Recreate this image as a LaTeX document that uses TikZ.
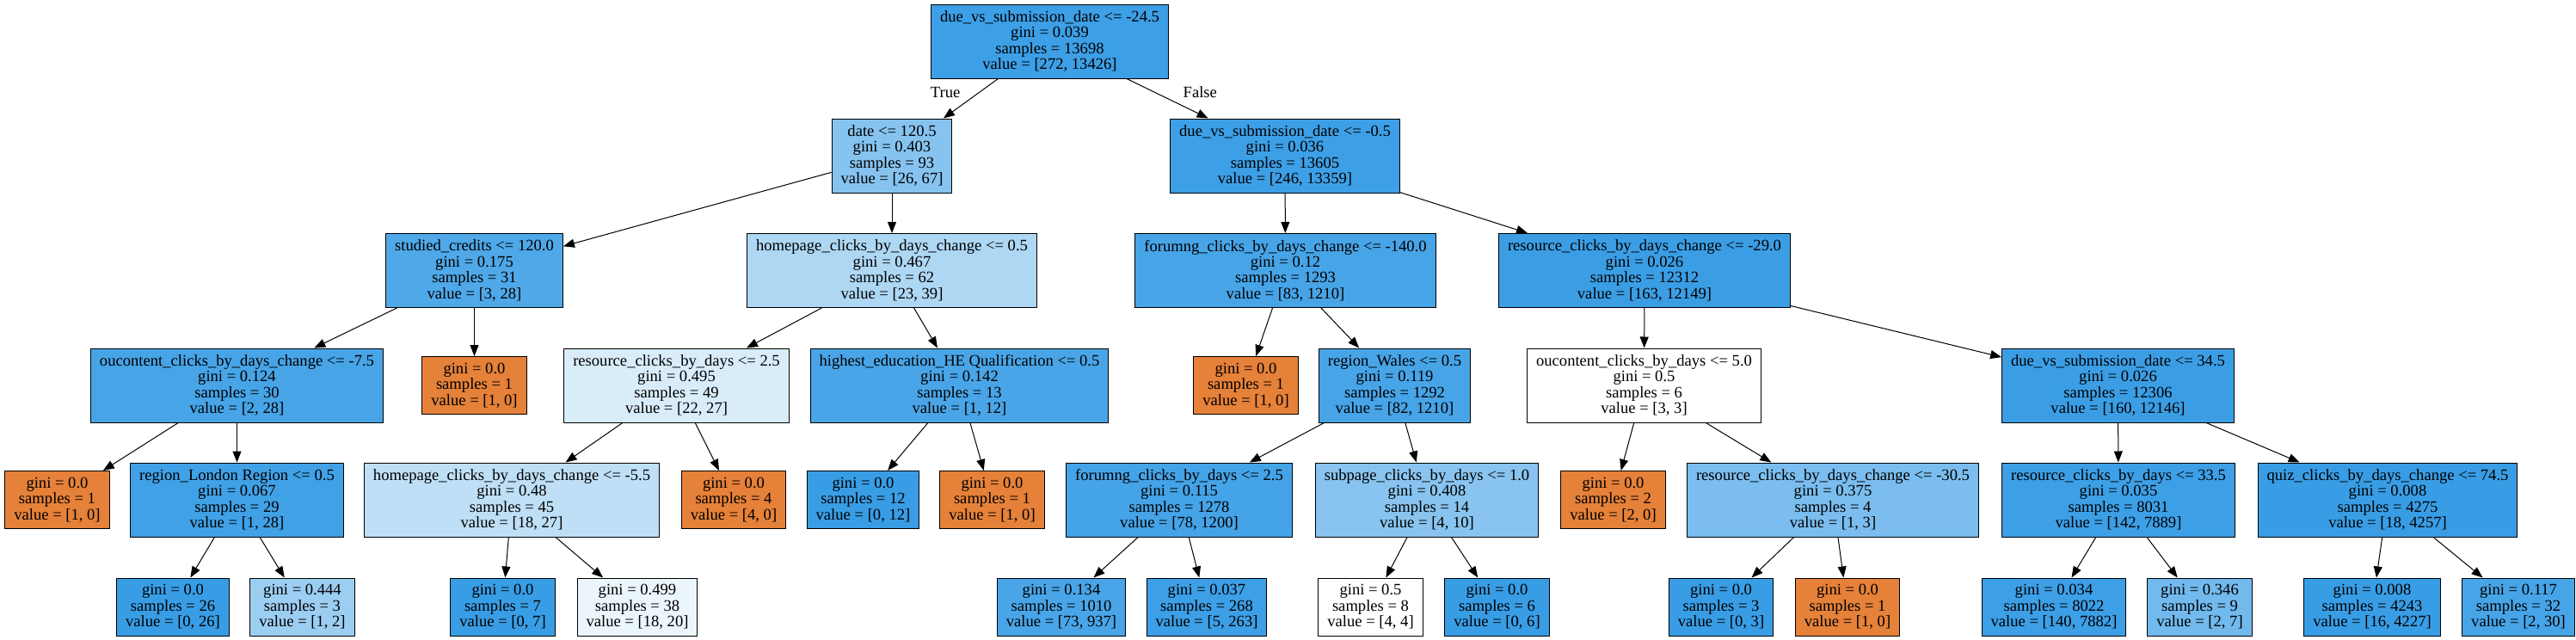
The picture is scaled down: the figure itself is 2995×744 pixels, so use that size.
\documentclass[tikz,border=0pt]{standalone}
\usepackage{fontspec}
\setmainfont{Liberation Serif}
\usetikzlibrary{arrows.meta}
\definecolor{cls0}{HTML}{E58139}
\definecolor{cls1}{HTML}{399DE5}

\begin{document}
\begin{tikzpicture}[x=1pt,y=-1pt,
  box/.style={draw,line width=1pt,align=center,inner xsep=10.5pt,inner ysep=0pt,
    minimum height=86pt,font=\fontsize{18.6}{18.4}\selectfont},
  leaf/.style={box,minimum height=67pt},
  edge/.style={line width=1pt,-{Triangle[length=13pt,width=10pt]}},
  lbl/.style={inner sep=0pt,font=\fontsize{18.6}{18.4}\selectfont}]
\useasboundingbox (0,0) rectangle (2995,744);
% level 0
\node[box,fill=cls1!98!white] (n0) at (1220.5,48) {due\_vs\_submission\_date <= -24.5\\gini = 0.039\\samples = 13698\\value = [272, 13426]};
% level 1
\node[box,fill=cls1!61!white] (n1) at (1037,181) {date <= 120.5\\gini = 0.403\\samples = 93\\value = [26, 67]};
\node[box,fill=cls1!98!white] (n18) at (1494,181) {due\_vs\_submission\_date <= -0.5\\gini = 0.036\\samples = 13605\\value = [246, 13359]};
% level 2
\node[box,fill=cls1!89!white] (n2) at (551.5,314.5) {studied\_credits <= 120.0\\gini = 0.175\\samples = 31\\value = [3, 28]};
\node[box,fill=cls1!41!white] (n9) at (1037,314.5) {homepage\_clicks\_by\_days\_change <= 0.5\\gini = 0.467\\samples = 62\\value = [23, 39]};
\node[box,fill=cls1!93!white] (n19) at (1494.5,314.5) {forumng\_clicks\_by\_days\_change <= -140.0\\gini = 0.12\\samples = 1293\\value = [83, 1210]};
\node[box,fill=cls1!99!white] (n28) at (1912,314.5) {resource\_clicks\_by\_days\_change <= -29.0\\gini = 0.026\\samples = 12312\\value = [163, 12149]};
% level 3
\node[box,fill=cls1!93!white] (n3) at (275.5,448) {oucontent\_clicks\_by\_days\_change <= -7.5\\gini = 0.124\\samples = 30\\value = [2, 28]};
\node[leaf,fill=cls0] (n8) at (551.5,448) {gini = 0.0\\samples = 1\\value = [1, 0]};
\node[box,fill=cls1!19!white] (n10) at (786.5,448) {resource\_clicks\_by\_days <= 2.5\\gini = 0.495\\samples = 49\\value = [22, 27]};
\node[box,fill=cls1!92!white] (n15) at (1115.5,448) {highest\_education\_HE Qualification <= 0.5\\gini = 0.142\\samples = 13\\value = [1, 12]};
\node[leaf,fill=cls0] (n20) at (1448.5,448) {gini = 0.0\\samples = 1\\value = [1, 0]};
\node[box,fill=cls1!93!white] (n21) at (1621.5,448) {region\_Wales <= 0.5\\gini = 0.119\\samples = 1292\\value = [82, 1210]};
\node[box,fill=white] (n29) at (1911.5,448) {oucontent\_clicks\_by\_days <= 5.0\\gini = 0.5\\samples = 6\\value = [3, 3]};
\node[box,fill=cls1!99!white] (n34) at (2462.5,448) {due\_vs\_submission\_date <= 34.5\\gini = 0.026\\samples = 12306\\value = [160, 12146]};
% level 4
\node[leaf,fill=cls0] (n4) at (66.5,581) {gini = 0.0\\samples = 1\\value = [1, 0]};
\node[box,fill=cls1!96!white] (n5) at (275.5,581) {region\_London Region <= 0.5\\gini = 0.067\\samples = 29\\value = [1, 28]};
\node[box,fill=cls1!33!white] (n11) at (595,581) {homepage\_clicks\_by\_days\_change <= -5.5\\gini = 0.48\\samples = 45\\value = [18, 27]};
\node[leaf,fill=cls0] (n14) at (853,581) {gini = 0.0\\samples = 4\\value = [4, 0]};
\node[leaf,fill=cls1] (n16) at (1003.5,581) {gini = 0.0\\samples = 12\\value = [0, 12]};
\node[leaf,fill=cls0] (n17) at (1153.5,581) {gini = 0.0\\samples = 1\\value = [1, 0]};
\node[box,fill=cls1!94!white] (n22) at (1371,581) {forumng\_clicks\_by\_days <= 2.5\\gini = 0.115\\samples = 1278\\value = [78, 1200]};
\node[box,fill=cls1!60!white] (n25) at (1659,581) {subpage\_clicks\_by\_days <= 1.0\\gini = 0.408\\samples = 14\\value = [4, 10]};
\node[leaf,fill=cls0] (n30) at (1875.5,581) {gini = 0.0\\samples = 2\\value = [2, 0]};
\node[box,fill=cls1!67!white] (n31) at (2131,581) {resource\_clicks\_by\_days\_change <= -30.5\\gini = 0.375\\samples = 4\\value = [1, 3]};
\node[box,fill=cls1!98!white] (n35) at (2463,581) {resource\_clicks\_by\_days <= 33.5\\gini = 0.035\\samples = 8031\\value = [142, 7889]};
\node[box,fill=cls1] (n38) at (2776,581) {quiz\_clicks\_by\_days\_change <= 74.5\\gini = 0.008\\samples = 4275\\value = [18, 4257]};
% level 5
\node[leaf,fill=cls1] (n6) at (201,705.5) {gini = 0.0\\samples = 26\\value = [0, 26]};
\node[leaf,fill=cls1!50!white] (n7) at (351.5,705.5) {gini = 0.444\\samples = 3\\value = [1, 2]};
\node[leaf,fill=cls1] (n12) at (584.5,705.5) {gini = 0.0\\samples = 7\\value = [0, 7]};
\node[leaf,fill=cls1!10!white] (n13) at (741,705.5) {gini = 0.499\\samples = 38\\value = [18, 20]};
\node[leaf,fill=cls1!92!white] (n23) at (1234,705.5) {gini = 0.134\\samples = 1010\\value = [73, 937]};
\node[leaf,fill=cls1!98!white] (n24) at (1403,705.5) {gini = 0.037\\samples = 268\\value = [5, 263]};
\node[leaf,fill=white] (n26) at (1593.5,705.5) {gini = 0.5\\samples = 8\\value = [4, 4]};
\node[leaf,fill=cls1] (n27) at (1740.5,705.5) {gini = 0.0\\samples = 6\\value = [0, 6]};
\node[leaf,fill=cls1] (n32) at (2001,705.5) {gini = 0.0\\samples = 3\\value = [0, 3]};
\node[leaf,fill=cls0] (n33) at (2148,705.5) {gini = 0.0\\samples = 1\\value = [1, 0]};
\node[leaf,fill=cls1!98!white] (n36) at (2388,705.5) {gini = 0.034\\samples = 8022\\value = [140, 7882]};
\node[leaf,fill=cls1!71!white] (n37) at (2557.5,705.5) {gini = 0.346\\samples = 9\\value = [2, 7]};
\node[leaf,fill=cls1] (n39) at (2758,705.5) {gini = 0.008\\samples = 4243\\value = [16, 4227]};
\node[leaf,fill=cls1!93!white] (n40) at (2928,705.5) {gini = 0.117\\samples = 32\\value = [2, 30]};
% edges
\draw[edge] (n0) -- node[lbl,pos=0.34,left=22pt]{True} (n1);
\draw[edge] (n0) -- node[lbl,pos=0.34,right=33pt]{False} (n18);
\draw[edge] (n1) -- (n2);
\draw[edge] (n1) -- (n9);
\draw[edge] (n2) -- (n3);
\draw[edge] (n2) -- (n8);
\draw[edge] (n3) -- (n4);
\draw[edge] (n3) -- (n5);
\draw[edge] (n5) -- (n6);
\draw[edge] (n5) -- (n7);
\draw[edge] (n9) -- (n10);
\draw[edge] (n9) -- (n15);
\draw[edge] (n10) -- (n11);
\draw[edge] (n10) -- (n14);
\draw[edge] (n11) -- (n12);
\draw[edge] (n11) -- (n13);
\draw[edge] (n15) -- (n16);
\draw[edge] (n15) -- (n17);
\draw[edge] (n18) -- (n19);
\draw[edge] (n18) -- (n28);
\draw[edge] (n19) -- (n20);
\draw[edge] (n19) -- (n21);
\draw[edge] (n21) -- (n22);
\draw[edge] (n21) -- (n25);
\draw[edge] (n22) -- (n23);
\draw[edge] (n22) -- (n24);
\draw[edge] (n25) -- (n26);
\draw[edge] (n25) -- (n27);
\draw[edge] (n28) -- (n29);
\draw[edge] (n28) -- (n34);
\draw[edge] (n29) -- (n30);
\draw[edge] (n29) -- (n31);
\draw[edge] (n31) -- (n32);
\draw[edge] (n31) -- (n33);
\draw[edge] (n34) -- (n35);
\draw[edge] (n34) -- (n38);
\draw[edge] (n35) -- (n36);
\draw[edge] (n35) -- (n37);
\draw[edge] (n38) -- (n39);
\draw[edge] (n38) -- (n40);
\end{tikzpicture}
\end{document}
